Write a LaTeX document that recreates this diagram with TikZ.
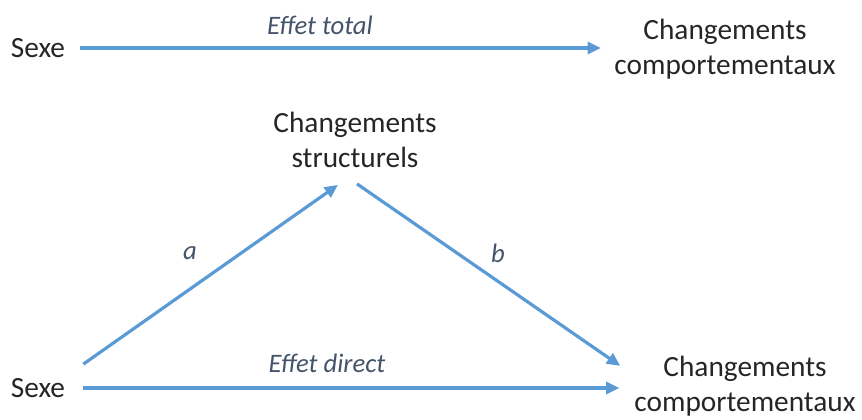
\documentclass[tikz,border=0pt]{standalone}
\usepackage{fontspec}
\setmainfont{Carlito}
\usepackage{xcolor}
\usepackage{tikz}
\usetikzlibrary{arrows.meta, positioning, calc}
\definecolor{Ink}{HTML}{262626}
\definecolor{Muted}{HTML}{44546A}
\definecolor{Blue}{HTML}{5B9BD5}

\begin{document}
\begin{tikzpicture}[
  x=0.75pt, y=-0.75pt,
  var/.style={inner sep=0pt, align=center, text=Ink, font=\fontsize{22}{26}\selectfont},
  lbl/.style={inner sep=0pt, text=Muted, font=\fontsize{20}{24}\selectfont\itshape},
  arrow/.style={-{Triangle[length=10pt, width=9pt]}, line width=2.4pt, draw=Blue}
]
\useasboundingbox (0,0) rectangle (862,420);

% top: total effect
\node[var] (sexe1) at (38,48) {Sexe};
\node[var] (comp1) at (725,49) {Changements\\comportementaux};
\draw[arrow] ([xshift=11pt]sexe1.east) -- ([xshift=-10pt]sexe1.east -| comp1.west);
\node[lbl] (total) at (320,25) {Effet total};

% bottom: mediation
\node[var] (sexe2) at (38,388) {Sexe};
\node[var] (struct) at (355,140) {Changements\\structurels};
\node[var] (comp2) at (745,386) {Changements\\comportementaux};
\draw[arrow] ([shift={(18,-14)}]sexe2.north east) -- ([shift={(-17,17)}]struct.south);
\draw[arrow] ([shift={(2,16)}]struct.south) -- ([shift={(-14,10)}]comp2.north west);
\draw[arrow] ([xshift=13pt]sexe2.east) -- ([xshift=-11pt]sexe2.east -| comp2.west);
\node[lbl] (la) at (190,253) {a};
\node[lbl] (lb) at (498,253) {b};
\node[lbl] (direct) at (327,363) {Effet direct};
\end{tikzpicture}
\end{document}
